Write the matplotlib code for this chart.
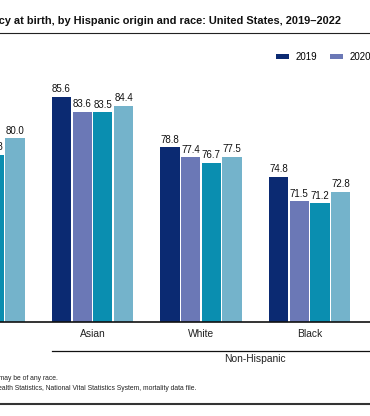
import matplotlib
matplotlib.use('agg')
import matplotlib.pyplot as plt
from matplotlib.lines import Line2D
import numpy as np

plt.rcParams['font.family'] = ['Liberation Sans', 'DejaVu Sans']

# Data (life expectancy, years)
groups = ['Hispanic', 'Asian', 'White', 'Black']
years = ['2019', '2020', '2021', '2022']
le_2019 = [81.9, 85.6, 78.8, 74.8]
le_2020 = [77.9, 83.6, 77.4, 71.5]
le_2021 = [77.8, 83.5, 76.7, 71.2]
le_2022 = [80.0, 84.4, 77.5, 72.8]
colors = ['#0b2a72', '#6b78b6', '#0a8eb0', '#74b3cb']

W, H = 370, 416
fig = plt.figure(figsize=(W / 100, H / 100), dpi=100)

def fx(px):
    return px / W

def fy(py):
    return 1 - py / H

# axes: baseline at y=322px, top at 70px; group step 108.5px
ax = fig.add_axes([0, fy(322), 1, (322 - 70) / H])
ymin = 55.2

x = np.arange(len(groups))
step = 20.7 / 108.5
width = 19.3 / 108.5
series = [le_2019, le_2020, le_2021, le_2022]
for i, (vals, yr, c) in enumerate(zip(series, years, colors)):
    pos = x + (i - 1.5) * step
    ax.bar(pos, np.array(vals) - ymin, width, bottom=ymin, color=c,
           edgecolor='none', label=yr)
    for p, v in zip(pos, vals):
        ax.text(p, v + 0.35, f'{v:.1f}', ha='center', va='bottom',
                fontsize=7, color='#111')

for s in ['top', 'left', 'right']:
    ax.spines[s].set_visible(False)
ax.spines['bottom'].set_linewidth(1.2)
ax.spines['bottom'].set_color('#111')
ax.set_yticks([])
ax.set_xticks(x)
ax.set_xticklabels(groups, fontsize=7.4, color='#222')
ax.tick_params(axis='x', length=0, pad=5)

# limits after ticks (set_xticks would widen them)
x0 = 1 - 92.5 / 108.5
ax.set_xlim(x0, x0 + W / 108.5)
ax.set_ylim(ymin, ymin + 252 / 7.41)

# Non-Hispanic bracket (Asian through the next group off to the right)
left = 1 - 1.5 * step - width / 2
right = 4 + 1.5 * step + width / 2
tr = ax.get_xaxis_transform()
ax.plot([left, right], [-0.115, -0.115], color='#111', lw=0.9,
        transform=tr, clip_on=False)
ax.text((left + right) / 2, -0.147, 'Non-Hispanic', transform=tr,
        ha='center', va='center', fontsize=7.4, color='#222')

ax.legend(loc='upper left', bbox_to_anchor=(fx(276), fy(52)),
          bbox_transform=fig.transFigure, ncol=4, frameon=False,
          fontsize=7, handlelength=1.35, handleheight=0.55,
          handletextpad=0.65, columnspacing=1.35, borderpad=0,
          borderaxespad=0)

# title and rules
fig.text(fx(341), fy(21), 'Figure 1. Life expectancy at birth, by Hispanic origin and race: '
         'United States, 2019\u20132022', ha='right', va='center',
         fontsize=7.95, fontweight='bold', color='#111')
fig.add_artist(Line2D([0, 1], [fy(32.5), fy(32.5)], color='#222', lw=0.8))

fig.text(fx(58), fy(379), 'NOTE: Hispanic people may be of any race.',
         ha='right', va='center', fontsize=4.9, color='#222')
fig.text(fx(196), fy(388), 'SOURCE: National Center for Health Statistics, '
         'National Vital Statistics System, mortality data file.',
         ha='right', va='center', fontsize=4.9, color='#222')
fig.add_artist(Line2D([0, 1], [fy(404), fy(404)], color='#333', lw=1.5))

fig.savefig('out.png', dpi=100)
